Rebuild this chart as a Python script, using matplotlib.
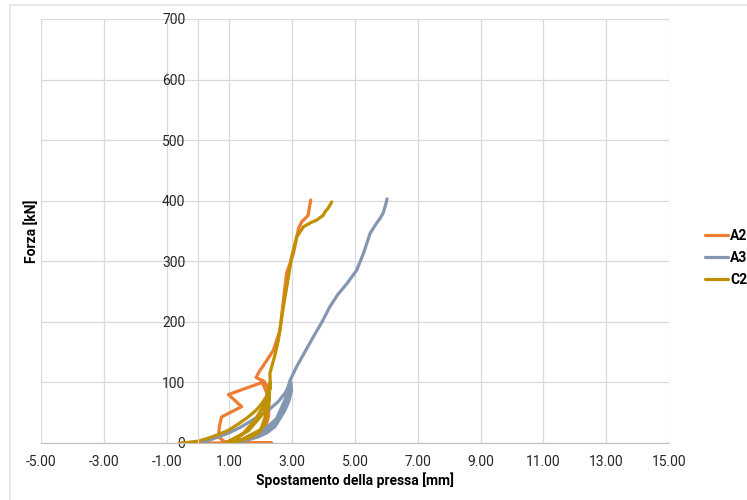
import matplotlib
matplotlib.use("Agg")
import matplotlib.pyplot as plt
from matplotlib.lines import Line2D

plt.rcParams['font.family'] = ['Roboto', 'DejaVu Sans']

# spostamento [mm] / forza [kN]
a2_x = [-0.6, 2.35, 0.85, 0.65, 0.68, 0.75, 1.39, 0.97, 1.5, 2.05, 2.25, 2.25, 2.15, 2.2, 2.25,
        2.1, 1.85, 1.95, 2.2, 2.4, 2.61, 2.72, 2.82, 3.04, 3.2, 3.3, 3.51, 3.55, 3.59]
a2_f = [0, 0, 2, 10, 27, 43, 60, 80, 90, 100, 75, 45, 25, 50, 90,
        102, 108, 118, 137, 153, 186, 236, 280, 313, 354, 365, 376, 390, 401]

a3_x = [0.15, 0.65, 1.0, 1.39, 1.8, 2.24, 2.55, 2.77, 2.95,
        2.98, 2.9, 2.77, 2.45, 2.2, 1.92, 1.5, 1.07,
        1.6, 2.2, 2.6, 2.85, 2.95,
        2.9, 2.7, 2.3, 1.7, 1.2,
        1.9, 2.5, 2.8, 2.92,
        3.14, 3.4, 3.67, 3.95, 4.2, 4.45, 4.74, 5.05, 5.27, 5.48, 5.65, 5.8, 5.9, 6.0, 6.02]
a3_f = [1, 10, 17, 27, 40, 54, 68, 82, 100,
        87, 70, 54, 27, 17, 10, 4, 1,
        8, 22, 45, 75, 100,
        80, 50, 25, 8, 1,
        12, 40, 75, 102,
        126, 150, 175, 200, 225, 245, 263, 285, 313, 346, 360, 371, 380, 398, 403]

c2_x = [-0.5, 0.0, 0.33, 0.65, 0.97, 1.3, 1.6, 1.85, 2.03, 2.2, 2.29, 2.3,
        2.24, 2.13, 1.95, 1.71, 1.35, 1.0,
        1.39, 1.82, 2.13, 2.29,
        2.25, 2.0, 1.4, 0.9,
        1.6, 2.1, 2.3,
        2.29, 2.45, 2.56, 2.72, 2.88, 2.98, 3.14, 3.36, 3.6, 3.78, 3.99, 4.05, 4.15, 4.26]
c2_f = [0, 3, 8, 14, 21, 32, 43, 54, 65, 78, 90, 100,
        65, 32, 18, 10, 4, 1,
        13, 38, 65, 98,
        60, 22, 6, 1,
        20, 50, 100,
        115, 145, 170, 225, 274, 307, 340, 357, 364, 368, 376, 382, 388, 398]

series = [("A2", a2_x, a2_f, "#ED7D31"),
          ("A3", a3_x, a3_f, "#8497B0"),
          ("C2", c2_x, c2_f, "#BF9000")]

x_ticks = [-5, -3, -1, 1, 3, 5, 7, 9, 11, 13, 15]
y_ticks = [0, 100, 200, 300, 400, 500, 600, 700]

fig = plt.figure(figsize=(7.47, 5), dpi=100)
ax = fig.add_axes([41 / 747, 57 / 500, 628 / 747, 424 / 500])

for name, xs, fs, col in series:
    ax.plot(xs, fs, color=col, lw=2.3, label=name, solid_joinstyle='round', solid_capstyle='round')

ax.set_xlim(-5, 15)
ax.set_ylim(0, 700)
ax.set_xticks(x_ticks)
ax.set_yticks(y_ticks)
ax.set_xticklabels(["%.2f" % v for v in x_ticks])
ax.set_yticklabels([str(v) for v in y_ticks])
ax.grid(True, color="#D9D9D9", lw=0.9)
ax.set_axisbelow(True)
ax.tick_params(length=0, labelsize=10, labelcolor="#262626")
ax.tick_params(axis='x', pad=9)
ax.tick_params(axis='y', pad=9)

for s in ['top', 'right']:
    ax.spines[s].set_visible(False)
ax.spines['left'].set_position(('data', 0))
ax.spines['left'].set_color("#D9D9D9")
ax.spines['bottom'].set_color("#BFBFBF")

ax.set_xlabel("Spostamento della pressa [mm]", fontsize=10, fontweight='bold', labelpad=2)
fig.text(32 / 747, 1 - 231 / 500, "Forza [kN]", rotation=90, fontsize=10,
         fontweight='bold', ha='center', va='center')

fig.legend(loc='center left', bbox_to_anchor=(705 / 747, 1 - 258 / 500), frameon=False,
           borderpad=0, borderaxespad=0, handlelength=1.65, handletextpad=0.15,
           labelspacing=0.6, prop={'weight': 'bold', 'size': 10})

# cornice esterna
fig.add_artist(Line2D([10 / 747, 10 / 747], [0, 1 - 5 / 500], color="#E3E3E3", lw=1.2))
fig.add_artist(Line2D([10 / 747, 1], [1 - 5 / 500, 1 - 5 / 500], color="#E3E3E3", lw=1.2))

fig.savefig("out.png", dpi=100)
